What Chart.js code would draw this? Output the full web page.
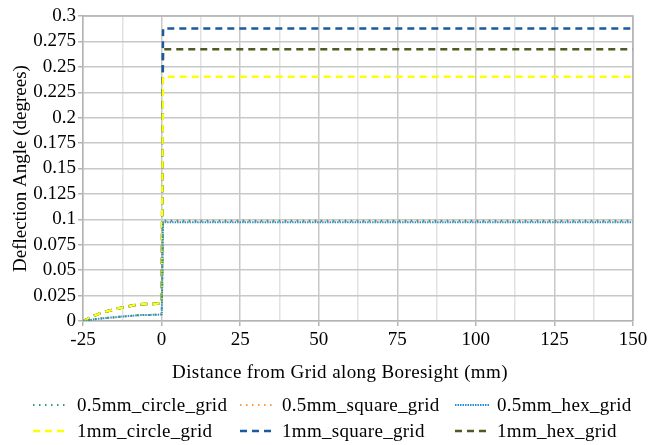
<!DOCTYPE html>
<html>
<head>
<meta charset="utf-8">
<script src="https://cdn.jsdelivr.net/npm/chart.js@4.4.1/dist/chart.umd.min.js"></script>
<style>
  html, body { margin: 0; padding: 0; background: #fff; }
  #wrap { position: relative; width: 663px; height: 445px; }
  #legend { position: absolute; left: 0; top: 0; width: 663px; height: 445px; pointer-events: none;
            font-family: "Liberation Serif", "DejaVu Serif", serif; font-size: 19px; color: #000; }
  .item { position: absolute; display: flex; align-items: center; height: 22px; white-space: nowrap; letter-spacing: 0.3px; }
  .item svg { margin-right: 8px; }
  #xTitle { position: absolute; top: 361px; left: 340px; transform: translateX(-50%); white-space: nowrap;
            letter-spacing: 0.4px; line-height: 22px; }
</style>
</head>
<body>
<div id="wrap">
  <canvas id="deflectionChart" width="663" height="445"></canvas>
  <div id="legend"><div id="xTitle">Distance from Grid along Boresight (mm)</div></div>
</div>
<script>
// distance from grid along boresight (mm)
const distance = [-25, -20, -15, -10, -5, 0, 0.5, 150];

// deflection angle (degrees) per grid type
const circle05 = [0, 0.0022, 0.0037, 0.0050, 0.0060, 0.0066, 0.0987, 0.0987];
const square05 = [0, 0.0022, 0.0037, 0.0050, 0.0060, 0.0066, 0.0980, 0.0980];
const hex05    = [0, 0.0022, 0.0037, 0.0050, 0.0060, 0.0066, 0.0972, 0.0972];
const circle1  = [0, 0.0070, 0.0115, 0.0148, 0.0167, 0.0178, 0.2402, 0.2402];
const square1  = [0, 0.0070, 0.0115, 0.0148, 0.0167, 0.0178, 0.2878, 0.2878];
const hex1     = [0, 0.0070, 0.0115, 0.0148, 0.0167, 0.0178, 0.2672, 0.2672];

const seriesNames = ['0.5mm_circle_grid', '0.5mm_square_grid', '0.5mm_hex_grid',
                     '1mm_circle_grid', '1mm_square_grid', '1mm_hex_grid'];
const seriesValues = [circle05, square05, hex05, circle1, square1, hex1];
const seriesColors = ['#2f9c80', '#f59b45', '#2b8fd6', '#ffff00', '#1b5a9c', '#4b5b22'];
const seriesDash = [[1.5, 4.5], [1.5, 4.5], [1.5, 1], [7, 5], [7, 5], [7, 5]];
const seriesWidth = [2, 2, 2, 2.5, 2.5, 2.5];

const FONT = "'Liberation Serif', 'DejaVu Serif', serif";

const datasets = seriesNames.map((name, i) => ({
    label: name,
    data: distance.map((d, j) => ({ x: d, y: seriesValues[i][j] })),
    borderColor: seriesColors[i],
    backgroundColor: seriesColors[i],
    borderWidth: seriesWidth[i],
    borderDash: seriesDash[i],
    pointRadius: 0,
    fill: false,
    cubicInterpolationMode: 'monotone'
}));

const chart = new Chart(document.getElementById('deflectionChart'), {
    type: 'line',
    data: { datasets },
    options: {
        responsive: false,
        animation: false,
        layout: { padding: { top: 16, right: 30, bottom: 59, left: 0 } },
        plugins: { legend: { display: false }, tooltip: { enabled: false } },
        scales: {
            x: {
                type: 'linear',
                min: -25,
                max: 150,
                afterFit: s => { s.height = 65; },
                border: { color: '#b4b4b4', width: 1.5 },
                grid: {
                    color: c => (c.tick && c.tick.value % 25 === 0) ? '#c8c8c8' : '#e2e2e2',
                    lineWidth: 1.5,
                    tickLength: 5,
                    tickColor: c => (c.tick && c.tick.value % 25 === 0) ? '#b4b4b4' : 'rgba(0,0,0,0)'
                },
                ticks: {
                    stepSize: 12.5,
                    autoSkip: false,
                    maxRotation: 0,
                    padding: 3,
                    color: '#000',
                    font: { family: FONT, size: 19 },
                    callback: v => (v % 25 === 0 ? String(v) : '')
                },
                title: { display: false }
            },
            y: {
                min: 0,
                max: 0.3,
                afterFit: s => { s.width = 83; },
                border: { color: '#b4b4b4', width: 1.5 },
                grid: { color: '#c8c8c8', lineWidth: 1.5, tickLength: 5, tickColor: '#b4b4b4' },
                ticks: {
                    stepSize: 0.025,
                    autoSkip: false,
                    padding: 2,
                    color: '#000',
                    font: { family: FONT, size: 19 },
                    callback: v => String(parseFloat(v.toFixed(3)))
                },
                title: {
                    display: true,
                    text: 'Deflection Angle (degrees)',
                    color: '#000',
                    font: { family: FONT, size: 19 },
                    padding: { top: 10, bottom: 0 }
                }
            }
        }
    },
    plugins: [{
        // box line along the top and right of the plot area
        id: 'frame',
        afterDraw(c) {
            const { ctx, chartArea: a } = c;
            ctx.save();
            ctx.strokeStyle = '#b4b4b4';
            ctx.lineWidth = 1.5;
            ctx.beginPath();
            ctx.moveTo(a.left, a.top);
            ctx.lineTo(a.right, a.top);
            ctx.lineTo(a.right, a.bottom);
            ctx.stroke();
            ctx.restore();
        }
    }]
});

// legend in a 3x2 grid under the axis title
const legendPos = [
    { left: 33, top: 394, w: 36 }, { left: 240, top: 394, w: 34 }, { left: 455, top: 394, w: 34 },
    { left: 33, top: 420, w: 36 }, { left: 240, top: 420, w: 34 }, { left: 455, top: 420, w: 34 }
];
const legendEl = document.getElementById('legend');
chart.data.datasets.forEach((ds, i) => {
    const p = legendPos[i];
    const item = document.createElement('div');
    item.className = 'item';
    item.style.left = p.left + 'px';
    item.style.top = p.top + 'px';
    item.innerHTML =
        `<svg width="${p.w}" height="6"><line x1="0" y1="3" x2="${p.w}" y2="3" stroke="${ds.borderColor}"` +
        ` stroke-width="${ds.borderWidth}" stroke-dasharray="${ds.borderDash.join(' ')}"/></svg>` +
        `<span>${ds.label}</span>`;
    legendEl.appendChild(item);
});
</script>
</body>
</html>
